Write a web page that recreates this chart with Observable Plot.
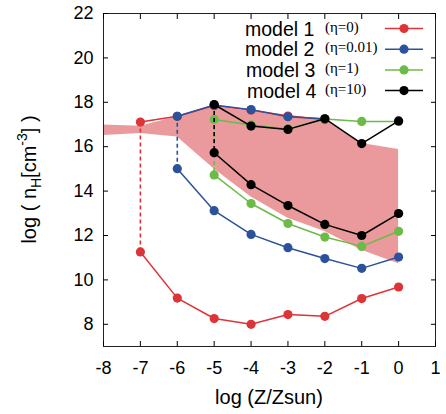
<!DOCTYPE html>
<html>
<head>
<meta charset="utf-8">
<script src="https://cdn.jsdelivr.net/npm/d3@7"></script>
<script src="https://cdn.jsdelivr.net/npm/@observablehq/plot@0.6"></script>
<style>
  html, body { margin: 0; padding: 0; background: #fff; }
  #chart { position: relative; width: 446px; height: 414px; }
  svg { font-family: "Liberation Sans", Arial, Helvetica, sans-serif; }
</style>
</head>
<body>
<div id="chart"></div>
<script>
// ---- data ----
const logZ = [-7, -6, -5, -4, -3, -2, -1, 0];

const model1Upper = [17.11, 17.37, 17.85, 17.65, 17.38, 17.22, null, null];
const model1Lower = [11.26, 9.18, 8.26, 8.00, 8.44, 8.36, 9.16, 9.68];
const model2Upper = [null, 17.37, 17.88, 17.67, 17.35, 17.26, null, null];
const model2Lower = [null, 15.01, 13.12, 12.05, 11.45, 10.96, 10.52, 11.03];
const model3Upper = [null, null, 17.23, 16.98, 16.80, 17.25, 17.14, 17.14];
const model3Lower = [null, null, 14.73, 13.44, 12.54, 11.93, 11.51, 12.19];
const model4Upper = [null, null, 17.90, 16.93, 16.78, 17.26, 16.14, 17.16];
const model4Lower = [null, null, 15.73, 14.29, 13.35, 12.50, 12.00, 12.99];

const bandX = [-8, -7, -6, -5, -4, -3, -2, -1, 0];
const bandTop = [16.98, 16.92, 17.35, 17.80, 17.60, 17.42, 17.20, 16.14, 15.87];
const bandBottom = [16.50, 16.60, 16.44, 15.00, 13.73, 12.78, 12.18, 11.33, 10.73];

const modelNames = ["model 1", "model 2", "model 3", "model 4"];
const etaLabels = ["(η=0)", "(η=0.01)", "(η=1)", "(η=10)"];
const modelColors = ["#dd3438", "#2c529c", "#6cba47", "#000000"];

const xTicks = [-8, -7, -6, -5, -4, -3, -2, -1, 0, 1];
const yTicks = [8, 10, 12, 14, 16, 18, 20, 22];

(function () {
// ---- build tables ----
const models = [
  {upper: model1Upper, lower: model1Lower},
  {upper: model2Upper, lower: model2Lower},
  {upper: model3Upper, lower: model3Lower},
  {upper: model4Upper, lower: model4Lower}
].map((m, i) => {
  const up = logZ.map((x, j) => ({x, y: m.upper[j]})).filter(d => d.y != null);
  const lo = logZ.map((x, j) => ({x, y: m.lower[j]})).filter(d => d.y != null);
  const link = [{x: up[0].x, y1: up[0].y, y2: lo[0].y}];
  return {up, lo, link, color: modelColors[i]};
});
const band = bandX.map((x, i) => ({x, hi: bandTop[i], lo: bandBottom[i]}));

const W = 446, H = 414;
const M = {top: 13, right: 11, bottom: 68, left: 103};

const marks = [
  Plot.areaY(band, {x: "x", y1: "lo", y2: "hi", fill: "#ea9a9c"}),
];
for (const m of models) {
  marks.push(
    Plot.ruleX(m.link, {x: "x", y1: "y1", y2: "y2", stroke: m.color, strokeWidth: 1.6, strokeDasharray: "4,3"}),
    Plot.line(m.up, {x: "x", y: "y", stroke: m.color, strokeWidth: 1.5}),
    Plot.line(m.lo, {x: "x", y: "y", stroke: m.color, strokeWidth: 1.5}),
    Plot.dot(m.up, {x: "x", y: "y", fill: m.color, r: 4.6}),
    Plot.dot(m.lo, {x: "x", y: "y", fill: m.color, r: 4.6})
  );
}
marks.push(
  Plot.frame({stroke: "#222", strokeWidth: 1}),
  Plot.axisX({anchor: "bottom", ticks: xTicks, tickSize: 0, tickPadding: 15, fontSize: 18, label: null, tickFormat: d => String(d)}),
  Plot.axisX({anchor: "bottom", ticks: xTicks, tickSize: -5, tickFormat: () => "", label: null}),
  Plot.axisX({anchor: "top", ticks: xTicks, tickSize: -5, tickFormat: () => "", label: null}),
  Plot.axisY({anchor: "left", ticks: yTicks, tickSize: 0, tickPadding: 10, fontSize: 18, label: null, tickFormat: d => String(d)}),
  Plot.axisY({anchor: "left", ticks: yTicks, tickSize: -5, tickFormat: () => "", label: null}),
  Plot.axisY({anchor: "right", ticks: yTicks, tickSize: -5, tickFormat: () => "", label: null})
);

const plot = Plot.plot({
  width: W, height: H,
  marginTop: M.top, marginRight: M.right, marginBottom: M.bottom, marginLeft: M.left,
  x: {domain: [-8, 1]},
  y: {domain: [7, 22]},
  style: {fontFamily: '"Liberation Sans", Arial, Helvetica, sans-serif', color: "#000", background: "#fff", overflow: "visible"},
  marks
});
document.getElementById("chart").appendChild(plot);

// ---- axis labels & legend ----
const svg = d3.select(plot);
const fx = plot.scale("x"), fy = plot.scale("y");
const xL = fx.apply(-8), xR = fx.apply(1), yT = fy.apply(22), yB = fy.apply(7);

svg.append("text")
  .attr("x", (xL + xR) / 2).attr("y", yB + 58)
  .attr("text-anchor", "middle").attr("font-size", 20).attr("fill", "#000")
  .text("log (Z/Zsun)");

const yl = svg.append("text")
  .attr("transform", `translate(36,${(yT + yB) / 2}) rotate(-90)`)
  .attr("text-anchor", "middle").attr("font-size", 20).attr("fill", "#000");
yl.append("tspan").text("log ( n");
yl.append("tspan").attr("font-size", 14).attr("dy", 5).text("H");
yl.append("tspan").attr("dy", -5).text("[cm");
yl.append("tspan").attr("font-size", 14).attr("dy", -9).text("-3");
yl.append("tspan").attr("dy", 9).text("] )");

const lg = svg.append("g").attr("text-anchor", "start");
modelNames.forEach((name, i) => {
  const cy = yT + 15.5 + i * 20.7;
  lg.append("text").attr("x", xR - 190 + (i >= 2 ? 1 + (i - 2) : 0)).attr("y", cy + 7)
    .attr("text-anchor", "start")
    .attr("font-size", 19.5).attr("fill", "#000").text(name);
  lg.append("text").attr("x", xR - 110).attr("y", cy + 3)
    .attr("text-anchor", "start")
    .attr("font-size", 15).attr("font-family", '"Liberation Serif", "DejaVu Serif", serif')
    .attr("fill", "#000").text(etaLabels[i]);
  lg.append("line").attr("x1", xR - 50).attr("x2", xR - 12)
    .attr("y1", cy).attr("y2", cy).attr("stroke", modelColors[i]).attr("stroke-width", 1.5);
  lg.append("circle").attr("cx", xR - 31).attr("cy", cy).attr("r", 4.6).attr("fill", modelColors[i]);
});
})();
</script>
</body>
</html>
